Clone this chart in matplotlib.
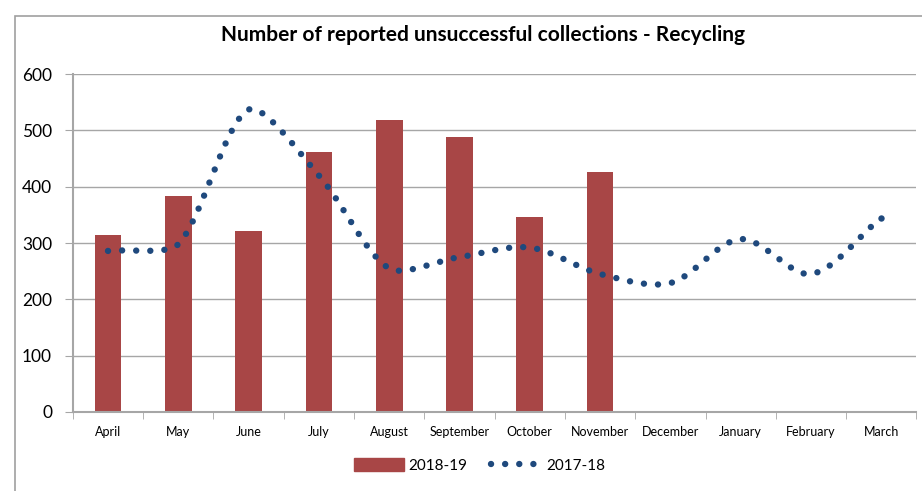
import matplotlib.pyplot as plt
import numpy as np
from matplotlib.patches import Rectangle, Patch
from matplotlib.lines import Line2D

MONTHS = ["April", "May", "June", "July", "August", "September", "October",
          "November", "December", "January", "February", "March"]
Y2018_19 = [315, 383, 322, 461, 518, 488, 347, 427]
Y2017_18 = [286, 298, 537, 420, 255, 275, 292, 245, 229, 307, 245, 345]

BAR_COLOR = "#A84646"
LINE_COLOR = "#1F497D"
GRID = "#A6A6A6"

FIG_W, FIG_H = 922, 491
AX_RECT = [0.079, 0.161, 0.915, 0.688]
PX_X = AX_RECT[2] * FIG_W / 12      # pixels per category
PX_Y = AX_RECT[3] * FIG_H / 600     # pixels per count
LW = 4.6


def smooth(x, y, n=40):
    # bezier smoothing, handles shortened on the short side of a point
    P = np.column_stack([np.asarray(x, float) * PX_X, np.asarray(y, float) * PX_Y])
    m = len(P)
    h_in = np.zeros_like(P)
    h_out = np.zeros_like(P)
    for i in range(m):
        if i == 0:
            h_out[i] = (P[1] - P[0]) / 3
            continue
        if i == m - 1:
            h_in[i] = (P[i] - P[i - 1]) / 3
            continue
        d = (P[i + 1] - P[i - 1]) / 6
        ci = np.linalg.norm(P[i] - P[i - 1])
        co = np.linalg.norm(P[i + 1] - P[i])
        h_in[i] = d * min(1.0, ci / co)
        h_out[i] = d * min(1.0, co / ci)
    out = []
    t = np.linspace(0, 1, n, endpoint=False)[:, None]
    for i in range(m - 1):
        a, b = P[i], P[i + 1]
        c1, c2 = a + h_out[i], b - h_in[i + 1]
        out.append((1 - t) ** 3 * a + 3 * (1 - t) ** 2 * t * c1
                   + 3 * (1 - t) * t ** 2 * c2 + t ** 3 * b)
    out.append(P[-1:])
    pts = np.vstack(out)
    length_pt = np.sum(np.linalg.norm(np.diff(pts, axis=0), axis=1)) * 72 / 100
    return pts[:, 0] / PX_X, pts[:, 1] / PX_Y, length_pt


def main():
    plt.rcParams["font.family"] = ["Lato", "DejaVu Sans"]
    fig = plt.figure(figsize=(FIG_W / 100, FIG_H / 100), dpi=100)
    ax = fig.add_axes(AX_RECT)

    fig.patches.append(Rectangle((15 / FIG_W, -0.1), 1.2, 1.1 - 16 / FIG_H,
                                 transform=fig.transFigure, fill=False,
                                 edgecolor="#A0A0A0", linewidth=1.2))

    x = np.arange(len(MONTHS))
    ax.bar(x[:len(Y2018_19)], Y2018_19, width=0.38, color=BAR_COLOR, zorder=2)

    sx, sy, length_pt = smooth(x, Y2017_18)
    n_dots = round(length_pt / (LW * 2.2))
    gap = length_pt / (n_dots * LW) - 0.01
    ax.plot(sx, sy, color=LINE_COLOR, linewidth=LW,
            dashes=(0.01, gap), dash_capstyle="round", zorder=3)
    ax.plot([sx[-1]], [sy[-1]], "o", color=LINE_COLOR, markersize=LW,
            markeredgewidth=0, zorder=3)

    ax.set_xlim(-0.5, len(MONTHS) - 0.5)
    ax.set_ylim(0, 600)
    ax.set_yticks(range(0, 601, 100))
    ax.tick_params(axis="y", labelsize=12.5, length=6, color=GRID, pad=9)
    ax.set_xticks(x)
    ax.set_xticklabels(MONTHS, fontsize=9)
    ax.set_xticks(np.arange(-0.5, len(MONTHS)), minor=True)
    ax.tick_params(axis="x", which="major", length=0, pad=10)
    ax.tick_params(axis="x", which="minor", length=5, color=GRID)
    ax.yaxis.grid(True, color=GRID, linewidth=1.0, zorder=0)
    ax.set_axisbelow(True)
    for s in ("top", "right"):
        ax.spines[s].set_visible(False)
    for s in ("left", "bottom"):
        ax.spines[s].set_color(GRID)
        ax.spines[s].set_linewidth(1.5)

    fig.text(0.524, 0.928, "Number of reported unsuccessful collections - Recycling",
             ha="center", va="center", fontsize=15, fontweight="bold")

    handles = [Patch(color=BAR_COLOR),
               Line2D([0], [0], color=LINE_COLOR, linewidth=LW,
                      dashes=(0.01, 2.2), dash_capstyle="round")]
    fig.legend(handles, ["2018-19", "2017-18"], loc="center",
               bbox_to_anchor=(0.520, 0.052), ncol=2, frameon=False,
               fontsize=11, handlelength=3.3, handleheight=0.9,
               columnspacing=1.55, handletextpad=0.3)

    fig.savefig("out.png", dpi=100)


if __name__ == "__main__":
    main()
